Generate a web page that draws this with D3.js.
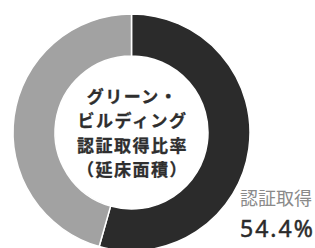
<!DOCTYPE html>
<html>
<head>
<meta charset="utf-8">
<script src="https://cdn.jsdelivr.net/npm/d3@7"></script>
<style>
  html, body { margin: 0; padding: 0; background: #fff; }
  svg { display: block; }
</style>
</head>
<body>
<script>
const categories = ["認証取得", "未取得"];
const values = [54.4, 45.6];
const colors = ["#2b2b2b", "#a2a2a2"];
const centerLines = ["グリーン・", "ビルディング", "認証取得比率", "（延床面積）"];
const labelText = "認証取得";
const labelValue = "54.4%";

const width = 315;
const height = 248;
const cx = 131.5;
const cy = 132.5;
const outerR = 118.5;
const innerR = 76.5;

const svg = d3.select("body")
  .append("svg")
  .attr("width", width)
  .attr("height", height);

svg.append("rect")
  .attr("width", "100%")
  .attr("height", "100%")
  .attr("fill", "white");

const g = svg.append("g")
  .attr("transform", "translate(" + cx + "," + cy + ")");

const pie = d3.pie().sort(null).value(d => d.value);
const arc = d3.arc().innerRadius(innerR).outerRadius(outerR);

const data = categories.map((c, i) => ({ name: c, value: values[i], color: colors[i] }));

g.selectAll("path")
  .data(pie(data))
  .join("path")
  .attr("d", arc)
  .attr("fill", d => d.data.color)
  .attr("stroke", "#fff")
  .attr("stroke-width", 1.5);

// center title
g.selectAll("text.center")
  .data(centerLines)
  .join("text")
  .attr("class", "center")
  .attr("x", 1)
  .attr("y", (d, i) => -37.5 + i * 24.5)
  .attr("text-anchor", "middle")
  .attr("dominant-baseline", "central")
  .attr("font-family", "'Noto Sans CJK JP', sans-serif")
  .attr("font-weight", 700)
  .attr("font-size", 17)
  .attr("letter-spacing", 1.5)
  .attr("fill", "#2e2e2e")
  .attr("stroke", "#2e2e2e")
  .attr("stroke-width", 0.3)
  .text(d => d);

// outside label
svg.append("text")
  .attr("x", 240)
  .attr("y", 197)
  .attr("dominant-baseline", "central")
  .attr("font-family", "'Noto Sans CJK JP', sans-serif")
  .attr("font-size", 18)
  .attr("fill", "#8a8a8a")
  .text(labelText);

svg.append("text")
  .attr("x", 240)
  .attr("y", 236.5)
  .attr("font-family", "'Noto Sans', sans-serif")
  .attr("font-size", 23)
  .attr("letter-spacing", 2)
  .attr("fill", "#2a2a2a")
  .attr("stroke", "#2a2a2a")
  .attr("stroke-width", 0.5)
  .text(labelValue);
</script>
</body>
</html>
